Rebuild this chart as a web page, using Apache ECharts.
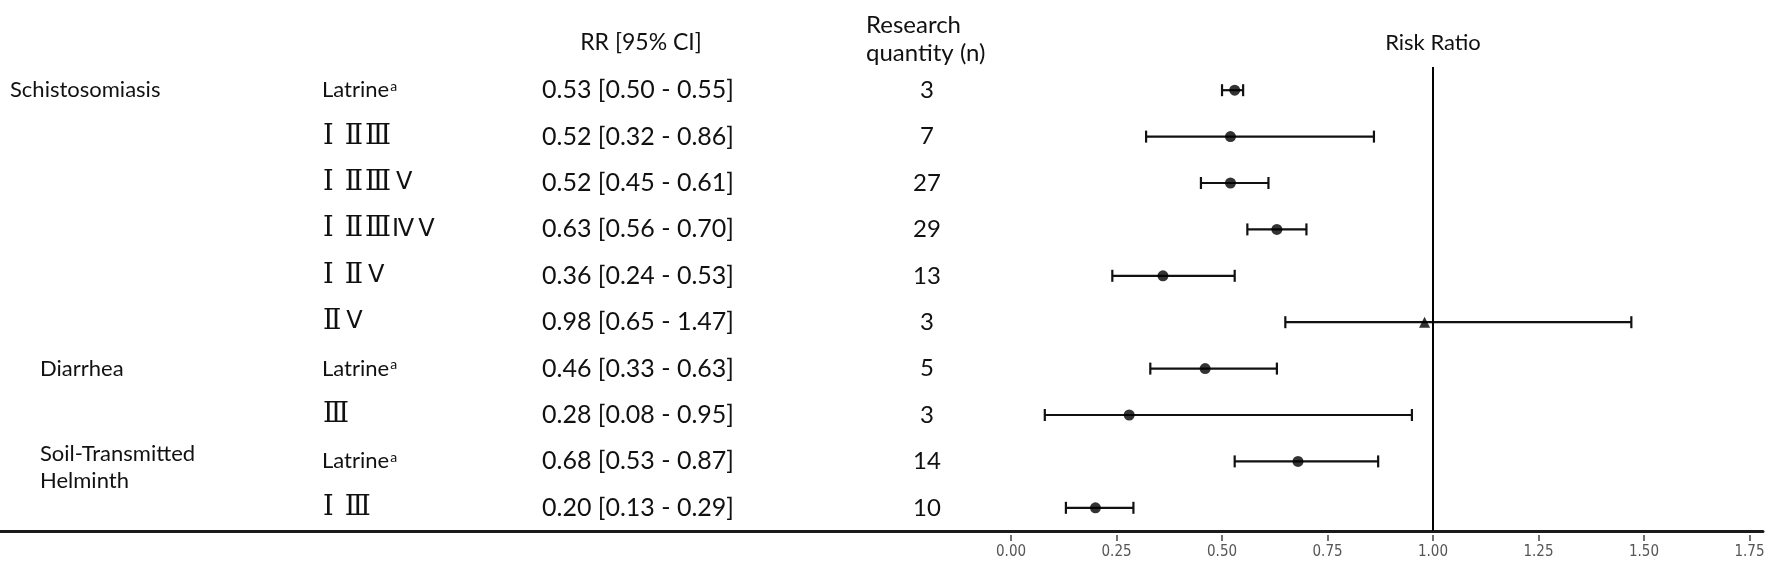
<!DOCTYPE html>
<html>
<head>
<meta charset="utf-8">
<script src="https://cdn.jsdelivr.net/npm/echarts@6/dist/echarts.min.js"></script>
<style>
html,body{margin:0;padding:0;background:#fff;}
#chart{width:1772px;height:563px;}
</style>
</head>
<body>
<div id="chart"></div>
<script>
// ---- data ----
const groups = ['Schistosomiasis', '', '', '', '', '', 'Diarrhea', '', 'Soil-Transmitted\nHelminth', ''];
const interventions = ['Latrine{sup|a}', 'Ⅰ ⅡⅢ', 'Ⅰ ⅡⅢⅤ', 'Ⅰ ⅡⅢⅣⅤ', 'Ⅰ ⅡⅤ', 'ⅡⅤ', 'Latrine{sup|a}', 'Ⅲ', 'Latrine{sup|a}', 'Ⅰ Ⅲ'];
const rr = [0.53, 0.52, 0.52, 0.63, 0.36, 0.98, 0.46, 0.28, 0.68, 0.20];
const lower = [0.50, 0.32, 0.45, 0.56, 0.24, 0.65, 0.33, 0.08, 0.53, 0.13];
const upper = [0.55, 0.86, 0.61, 0.70, 0.53, 1.47, 0.63, 0.95, 0.87, 0.29];
const nStudies = [3, 7, 27, 29, 13, 3, 5, 3, 14, 10];
const markerShapes = ['circle', 'circle', 'circle', 'circle', 'circle', 'triangle', 'circle', 'circle', 'circle', 'circle'];
const xTicks = [0, 0.25, 0.5, 0.75, 1.0, 1.25, 1.5, 1.75];

// ---- derived ----
const rowIds = rr.map((_, i) => String(i));
const rrText = rr.map((v, i) => v.toFixed(2) + ' [' + lower[i].toFixed(2) + ' - ' + upper[i].toFixed(2) + ']');
const nText = nStudies.map(String);

const FONT = 'Lato, "Open Sans", sans-serif';
const FS = 22;
const FS_NUM = 24;
const TXT = '#111';

const chart = echarts.init(document.getElementById('chart'));

function textAxis(data, offset, align, labelExtra) {
  return {
    type: 'category',
    data: data,
    inverse: true,
    position: 'left',
    gridIndex: 0,
    offset: offset,
    axisLine: {show: false},
    axisTick: {show: false},
    splitLine: {show: false},
    axisLabel: Object.assign({
      show: true, interval: 0, margin: 0, align: align,
      color: TXT, fontSize: FS, fontFamily: FONT, hideOverlap: false
    }, labelExtra || {})
  };
}

function romanRich(v) {
  let out = '';
  let prev = '';
  for (const ch of v) {
    if (ch === 'Ⅴ') out += (prev ? '{vg|' : '{v|') + ch + '}';
    else if (ch === 'Ⅳ') out += '{v|' + ch + '}';
    else if (ch === ' ') out += '{sp| }';
    else out += '{s|' + ch + '}';
    prev = ch;
  }
  return out;
}

const xMin = -2.396, xMax = 1.782;

const option = {
  backgroundColor: '#fff',
  animation: false,
  grid: {left: 0, right: 9, top: 67, bottom: 32, containLabel: false},
  xAxis: [
    {
      type: 'value', min: xMin, max: xMax, position: 'bottom',
      axisLine: {show: true, lineStyle: {color: '#1a1a1a', width: 3}},
      axisTick: {show: false}, axisLabel: {show: false}, splitLine: {show: false}
    },
    {
      type: 'value', min: xMin, max: xMax, position: 'bottom', offset: 4,
      axisLine: {show: false},
      axisTick: {show: true, customValues: xTicks, length: 6, lineStyle: {color: '#444', width: 1.5}},
      axisLabel: {
        show: true, customValues: xTicks, margin: 10,
        formatter: v => v.toFixed(2),
        color: '#555', fontSize: 15,
        fontFamily: '"Liberation Sans Narrow", "DejaVu Sans Condensed", sans-serif'
      },
      splitLine: {show: false}
    }
  ],
  yAxis: [
    {type: 'category', data: rowIds, inverse: true, show: false},
    textAxis(groups, -10, 'left', {
      formatter: (v, i) => {
        if (i === 0) return '{a|' + v + '}';
        if (!v) return '';
        const lines = v.split('\n');
        if (lines.length > 1) return '{e|}\n' + lines.map(s => '{b|' + s + '}').join('\n');
        return '{b|' + v + '}';
      },
      rich: {
        a: {fontSize: FS, fontFamily: FONT, color: TXT},
        b: {fontSize: FS, fontFamily: FONT, color: TXT, padding: [0, 0, 0, 30], lineHeight: 27},
        e: {fontSize: 4, lineHeight: 12}
      }
    }),
    textAxis(interventions, -322, 'left', {
      formatter: v => v.indexOf('{sup|') >= 0 ? '{m|' + v.replace('{sup|a}', '') + '}{sup|a}' : romanRich(v),
      rich: {
        m: {fontSize: FS, fontFamily: FONT, color: TXT},
        s: {fontSize: 27, fontFamily: '"DejaVu Serif", serif', color: TXT, padding: [0, 1, 0, 1]},
        v: {fontSize: 24, fontFamily: '"DejaVu Sans", Lato, sans-serif', color: TXT},
        vg: {fontSize: 24, fontFamily: '"DejaVu Sans", Lato, sans-serif', color: TXT, padding: [0, 0, 0, 4]},
        sp: {fontSize: 22, fontFamily: FONT, color: TXT, width: 9},
        sup: {fontSize: 14, fontFamily: FONT, color: TXT, verticalAlign: 'top', padding: [0, 0, 8, 1]}
      }
    }),
    textAxis(rrText, -542, 'left', {fontSize: 25}),
    textAxis(nText, -927, 'center', {fontSize: FS_NUM})
  ],
  graphic: [
    {type: 'text', x: 641, y: 43, style: {text: 'RR [95% CI]', font: '23px ' + FONT, fill: TXT, textAlign: 'center', textVerticalAlign: 'middle'}},
    {type: 'text', x: 866, y: 39, style: {text: 'Research\nquantity (n)', font: '24px ' + FONT, fill: TXT, textAlign: 'left', textVerticalAlign: 'middle', lineHeight: 28}},
    {type: 'text', x: 1433, y: 43, style: {text: 'Risk Ratio', font: FS + 'px ' + FONT, fill: TXT, textAlign: 'center', textVerticalAlign: 'middle'}}
  ],
  series: [
    {
      type: 'custom',
      xAxisIndex: 0, yAxisIndex: 0,
      data: lower.map((lo, i) => [lo, upper[i], i]),
      encode: {x: [0, 1], y: 2},
      z: 2,
      renderItem: function (params, api) {
        const row = api.value(2);
        const p1 = api.coord([api.value(0), row]);
        const p2 = api.coord([api.value(1), row]);
        const cap = 6;
        const st = {stroke: '#111', lineWidth: 2.2};
        return {
          type: 'group',
          children: [
            {type: 'line', shape: {x1: p1[0], y1: p1[1], x2: p2[0], y2: p2[1]}, style: st},
            {type: 'line', shape: {x1: p1[0], y1: p1[1] - cap, x2: p1[0], y2: p1[1] + cap}, style: st},
            {type: 'line', shape: {x1: p2[0], y1: p2[1] - cap, x2: p2[0], y2: p2[1] + cap}, style: st}
          ]
        };
      }
    },
    {
      type: 'scatter',
      xAxisIndex: 0, yAxisIndex: 0,
      z: 3,
      data: rr.map((v, i) => ({value: [v, i], symbol: markerShapes[i], symbolSize: 11})),
      itemStyle: {color: '#000'},
      markLine: {
        silent: true, symbol: 'none', label: {show: false},
        lineStyle: {color: '#000', width: 2, type: 'solid'},
        data: [{xAxis: 1}]
      }
    }
  ]
};
chart.setOption(option);
</script>
</body>
</html>
